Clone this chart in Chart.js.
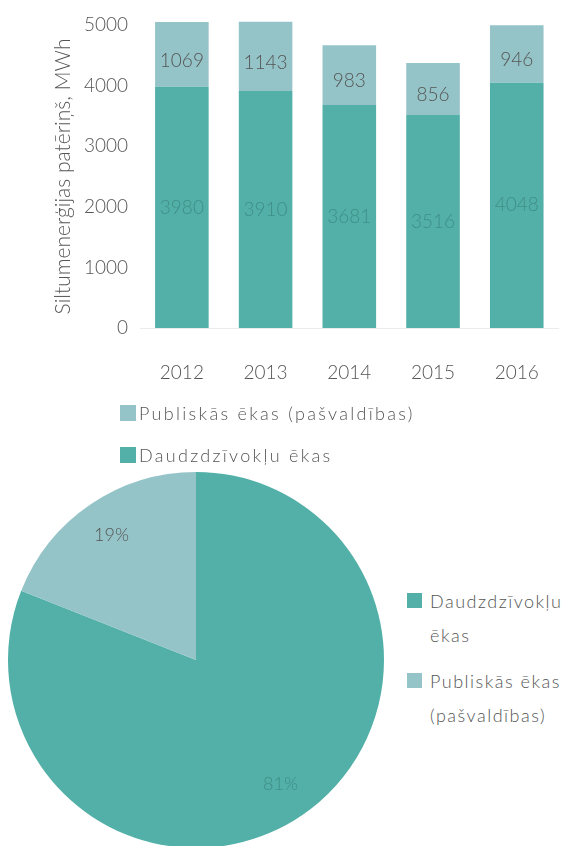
<!DOCTYPE html>
<html>
<head>
<meta charset="utf-8">
<script src="https://cdn.jsdelivr.net/npm/chart.js@4"></script>
<style>
  html, body { margin:0; padding:0; background:#fff; }
  body { width:572px; height:846px; overflow:hidden; position:relative; font-family:Lato, "Open Sans", sans-serif; color:#555; }
  #barBox { position:absolute; left:0; top:0; width:572px; height:395px; }
  #pieBox { position:absolute; left:8px; top:472px; width:376px; height:376px; }
  .lg { position:absolute; font-size:18px; font-weight:300; letter-spacing:1.2px; color:#555; }
  .lg .it { position:relative; padding-left:19px; }
  .lg .sw { position:absolute; left:0; width:16px; height:16px; }
  #barLegend { left:120px; top:392px; line-height:42px; letter-spacing:2.3px; }
  #barLegend .sw { top:13px; }
  #pieLegend { left:407px; top:584px; line-height:34px; width:170px; letter-spacing:1.5px; }
  #pieLegend .it { padding-left:23px; margin-bottom:12px; }
  #pieLegend .sw { top:9px; width:15px; height:15px; }
</style>
</head>
<body>
<div id="barBox"><canvas id="bar"></canvas></div>
<div id="barLegend" class="lg"></div>
<div id="pieBox"><canvas id="pie"></canvas></div>
<div id="pieLegend" class="lg"></div>
<script>
// ---- data ----
const years = ['2012', '2013', '2014', '2015', '2016'];
const multiApartment = [3980, 3910, 3681, 3516, 4048];
const publicMunicipal = [1069, 1143, 983, 856, 946];
const seriesNames = ['Daudzdzīvokļu ēkas', 'Publiskās ēkas (pašvaldības)'];
const yAxisTitle = 'Siltumenerģijas patēriņš, MWh';
const yMin = 0, yMax = 5000, yStep = 1000;
const pieLabels = ['Daudzdzīvokļu ēkas', 'Publiskās ēkas (pašvaldības)'];
const pieLegendLines = [['Daudzdzīvokļu', 'ēkas'], ['Publiskās ēkas', '(pašvaldības)']];
const pieShares = [81, 19];

// ---- style ----
const DARK = '#52b0a8';
const LIGHT = '#95c4c8';
const TEXT = '#555555';
const DARK_LABEL = '#3f8f88';
const FONT = 'Lato, "Open Sans", sans-serif';

// ---- HTML legends ----
const barLegend = document.getElementById('barLegend');
[[seriesNames[1], LIGHT], [seriesNames[0], DARK]].forEach(([t, c]) => {
  const d = document.createElement('div'); d.className = 'it';
  const s = document.createElement('span'); s.className = 'sw'; s.style.background = c;
  d.appendChild(s); d.appendChild(document.createTextNode(t));
  barLegend.appendChild(d);
});
const pieLegend = document.getElementById('pieLegend');
const pieColors = [DARK, LIGHT];
pieLegendLines.forEach((lines, i) => {
  const d = document.createElement('div'); d.className = 'it';
  const s = document.createElement('span'); s.className = 'sw'; s.style.background = pieColors[i];
  d.appendChild(s);
  lines.forEach((ln, j) => { if (j) d.appendChild(document.createElement('br')); d.appendChild(document.createTextNode(ln)); });
  pieLegend.appendChild(d);
});

// ---- bar value labels ----
const barLabels = {
  id: 'barLabels',
  afterDatasetsDraw(chart) {
    const ctx = chart.ctx;
    ctx.save();
    ctx.font = '300 19px ' + FONT;
    ctx.textAlign = 'center';
    ctx.textBaseline = 'middle';
    chart.data.datasets.forEach((ds, di) => {
      const meta = chart.getDatasetMeta(di);
      meta.data.forEach((el, i) => {
        ctx.fillStyle = di === 0 ? DARK_LABEL : TEXT;
        ctx.fillText(String(ds.data[i]), el.x, (el.y + el.base) / 2 + (di === 1 ? 6 : 0));
      });
    });
    ctx.restore();
  }
};

Chart.defaults.font.family = FONT;
Chart.defaults.font.weight = 300;
Chart.defaults.color = TEXT;

new Chart(document.getElementById('bar'), {
  type: 'bar',
  data: {
    labels: years,
    datasets: [
      { label: seriesNames[0], data: multiApartment, backgroundColor: DARK, borderWidth: 0, clip: false },
      { label: seriesNames[1], data: publicMunicipal, backgroundColor: LIGHT, borderWidth: 0, clip: false }
    ]
  },
  options: {
    responsive: true,
    maintainAspectRatio: false,
    animation: false,
    events: [],
    categoryPercentage: 1,
    barPercentage: 0.64,
    layout: { padding: { top: 25, right: 2, left: 0, bottom: 0 } },
    plugins: { legend: { display: false }, tooltip: { enabled: false } },
    scales: {
      x: {
        stacked: true,
        grid: { display: false, drawTicks: false },
        border: { display: true, color: '#ececec', width: 1 },
        ticks: { font: { size: 19, weight: 300 }, color: TEXT, padding: 33 },
        afterFit(s) { s.height = 67; }
      },
      y: {
        stacked: true,
        min: yMin, max: yMax,
        grid: { display: false, drawTicks: false },
        border: { display: false },
        ticks: { stepSize: yStep, font: { size: 19, weight: 300 }, color: TEXT, padding: 12, callback: v => String(v) },
        title: { display: true, text: yAxisTitle, font: { size: 21, weight: 300 }, color: TEXT, padding: { top: 51, bottom: 0 } },
        afterFit(s) { s.width = 140; }
      }
    }
  },
  plugins: [barLabels]
});

// ---- pie percentage labels ----
const pieValueLabels = {
  id: 'pieValueLabels',
  afterDatasetsDraw(chart) {
    const ctx = chart.ctx;
    const meta = chart.getDatasetMeta(0);
    ctx.save();
    ctx.font = '300 18px ' + FONT;
    ctx.textAlign = 'center';
    ctx.textBaseline = 'middle';
    meta.data.forEach((arc, i) => {
      const mid = (arc.startAngle + arc.endAngle) / 2;
      const r = arc.outerRadius * 0.8;
      ctx.fillStyle = i === 0 ? DARK_LABEL : TEXT;
      ctx.fillText(pieShares[i] + '%', arc.x + Math.cos(mid) * r, arc.y + Math.sin(mid) * r);
    });
    ctx.restore();
  }
};

new Chart(document.getElementById('pie'), {
  type: 'pie',
  data: {
    labels: pieLabels,
    datasets: [{ data: pieShares, backgroundColor: [DARK, LIGHT], borderWidth: 0 }]
  },
  options: {
    responsive: true,
    maintainAspectRatio: false,
    animation: false,
    events: [],
    layout: { padding: 0 },
    plugins: { legend: { display: false }, tooltip: { enabled: false } }
  },
  plugins: [pieValueLabels]
});
</script>
</body>
</html>
